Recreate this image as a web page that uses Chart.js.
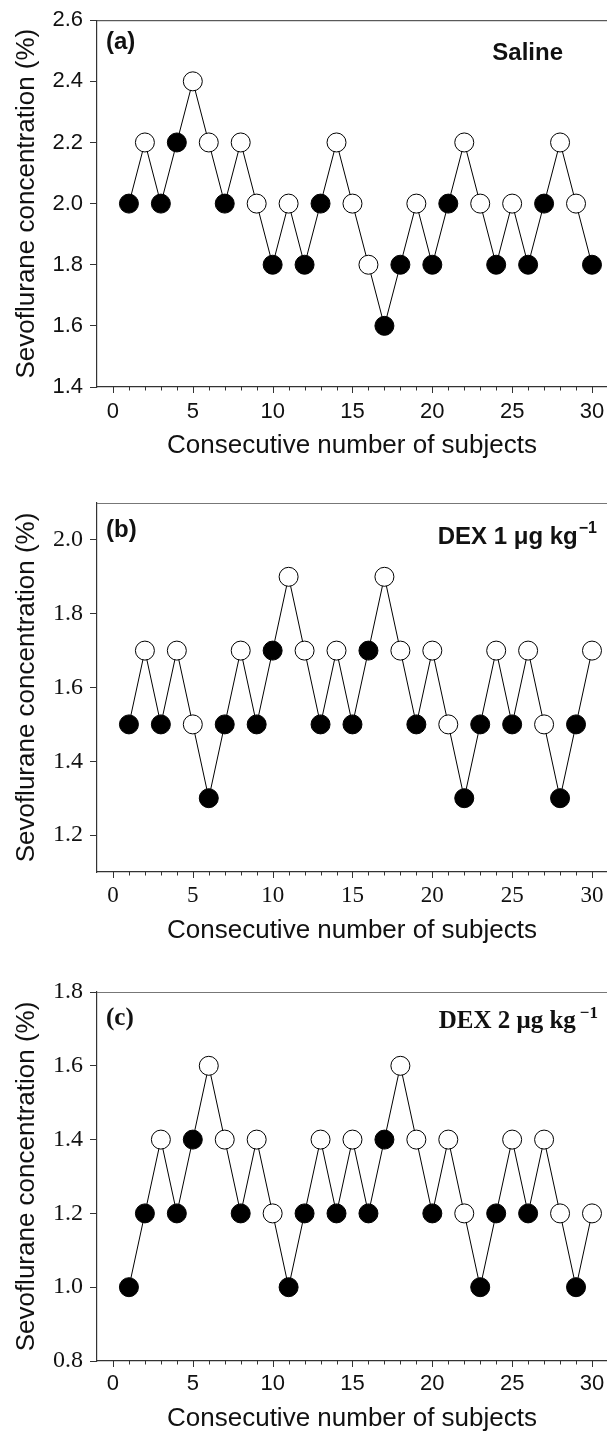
<!DOCTYPE html>
<html>
<head>
<meta charset="utf-8">
<script src="https://cdn.jsdelivr.net/npm/chart.js@4.4.1/dist/chart.umd.min.js"></script>
<style>
html,body{margin:0;padding:0;background:#fff;}
#wrap{position:relative;width:607px;height:1431px;overflow:hidden;}
canvas{position:absolute;left:0;}
</style>
</head>
<body>
<div id="wrap">
  <canvas id="pa" width="607" height="470" style="top:0px"></canvas>
  <canvas id="pb" width="607" height="490" style="top:470px"></canvas>
  <canvas id="pc" width="607" height="471" style="top:960px"></canvas>
</div>
<script>
/* up-and-down sequences, one point per consecutive subject */
const subjects = [1,2,3,4,5,6,7,8,9,10,11,12,13,14,15,16,17,18,19,20,21,22,23,24,25,26,27,28,29,30];

const salineValues = [2.0,2.2,2.0,2.2,2.4,2.2,2.0,2.2,2.0,1.8,2.0,1.8,2.0,2.2,2.0,1.8,1.6,1.8,2.0,1.8,2.0,2.2,2.0,1.8,2.0,1.8,2.0,2.2,2.0,1.8];
const salineFilled = [1,0,1,1,0,0,1,0,0,1,0,1,1,0,0,0,1,1,0,1,1,0,0,1,0,1,1,0,0,1];

const dex1Values = [1.5,1.7,1.5,1.7,1.5,1.3,1.5,1.7,1.5,1.7,1.9,1.7,1.5,1.7,1.5,1.7,1.9,1.7,1.5,1.7,1.5,1.3,1.5,1.7,1.5,1.7,1.5,1.3,1.5,1.7];
const dex1Filled = [1,0,1,0,0,1,1,0,1,1,0,0,1,0,1,1,0,0,1,0,0,1,1,0,1,0,0,1,1,0];

const dex2Values = [1.0,1.2,1.4,1.2,1.4,1.6,1.4,1.2,1.4,1.2,1.0,1.2,1.4,1.2,1.4,1.2,1.4,1.6,1.4,1.2,1.4,1.2,1.0,1.2,1.4,1.2,1.4,1.2,1.0,1.2];
const dex2Filled = [1,1,0,1,1,0,0,1,0,0,1,1,0,1,0,1,1,0,0,1,0,0,1,1,0,1,0,0,1,0];

const xTickLabels = [0,5,10,15,20,25,30];
const xMinorTicks = [0,1,2,3,4,5,6,7,8,9,10,11,12,13,14,15,16,17,18,19,20,21,22,23,24,25,26,27,28,29,30];
const salineYTicks = [1.4,1.6,1.8,2.0,2.2,2.4,2.6];
const dex1YTicks = [1.2,1.4,1.6,1.8,2.0];
const dex2YTicks = [0.8,1.0,1.2,1.4,1.6,1.8];

const SANS = '"Liberation Sans", Arial, sans-serif';
const SERIF = '"Liberation Serif", "Times New Roman", serif';

const panelDeco = {
  id: 'panelDeco',
  afterDraw(chart, args, o){
    const {ctx, chartArea:a, scales:{x}} = chart;
    ctx.save();
    // top frame line
    ctx.strokeStyle = o.frameColor; ctx.lineWidth = 1;
    ctx.beginPath(); ctx.moveTo(a.left, a.top+0.5); ctx.lineTo(a.right, a.top+0.5); ctx.stroke();
    // x tick marks, long on multiples of 5
    ctx.strokeStyle = '#333';
    ctx.beginPath();
    for(const v of xMinorTicks){
      const px = Math.round(x.getPixelForValue(v))+0.5;
      ctx.moveTo(px, a.bottom);
      ctx.lineTo(px, a.bottom + (v%5===0 ? 6 : 3.5));
    }
    ctx.stroke();
    ctx.fillStyle = '#111';
    // x tick labels (drawn here so the axis keeps its full width)
    ctx.font = o.xSize+'px '+o.xFont;
    ctx.textAlign = 'center'; ctx.textBaseline = 'middle';
    for(const v of xTickLabels){
      ctx.fillText(String(v), x.getPixelForValue(v), a.bottom + o.xLabelOffset);
    }
    // axis titles
    ctx.font = '26px '+SANS;
    ctx.fillText('Consecutive number of subjects', (a.left+a.right)/2, a.bottom + o.xTitleOffset);
    ctx.save();
    ctx.textBaseline = 'alphabetic';
    ctx.translate(34, (a.top+a.bottom)/2);
    ctx.rotate(-Math.PI/2);
    ctx.fillText('Sevoflurane concentration (%)', 0, 0);
    ctx.restore();
    // panel letter
    ctx.font = 'bold '+o.letterSize+'px '+o.letterFont;
    ctx.textAlign = 'left';
    ctx.fillText(o.letter, 106, a.top + o.letterY);
    // group label, with optional superscript
    const big = 'bold '+o.labelSize+'px '+o.labelFont;
    const small = 'bold '+Math.round(o.labelSize*0.68)+'px '+o.labelFont;
    ctx.font = big;
    const mainW = ctx.measureText(o.label).width;
    let supW = 0;
    if(o.sup){
      ctx.font = small;
      supW = ctx.measureText(o.sup).width + o.supGap;
    }
    const startX = o.labelRight - mainW - supW;
    ctx.font = big;
    ctx.fillText(o.label, startX, a.top + o.labelY);
    if(o.sup){
      ctx.font = small;
      ctx.fillText(o.sup, startX + mainW + o.supGap, a.top + o.labelY - 8);
    }
    ctx.restore();
  }
};

function makePanel(id, values, filled, yTicks, yMin, yMax, opt){
  const pts = subjects.map((s,i)=>({x:s, y:values[i]}));
  return new Chart(document.getElementById(id), {
    type: 'line',
    data: {
      datasets: [{
        data: pts,
        borderColor: '#000',
        borderWidth: 1,
        tension: 0,
        pointRadius: 9.5,
        pointHoverRadius: 9.5,
        pointBorderWidth: 1,
        pointBorderColor: '#000',
        pointBackgroundColor: filled.map(f => f ? '#000' : '#fff'),
        clip: false
      }]
    },
    options: {
      responsive: false,
      animation: false,
      layout: {autoPadding: false, padding: {top: opt.padTop, left: 0, right: 0, bottom: 0}},
      plugins: {
        legend: {display: false},
        tooltip: {enabled: false},
        panelDeco: opt.deco
      },
      scales: {
        x: {
          type: 'linear',
          min: -1, max: 30.94,
          afterFit: s => { s.height = opt.xHeight; },
          grid: {display: false},
          border: {display: true, color: '#333', width: 1.2},
          ticks: {display: false}
        },
        y: {
          min: yMin, max: yMax,
          afterBuildTicks: s => { s.ticks = yTicks.map(v => ({value: v})); },
          afterFit: s => { s.width = 97; },
          grid: {display: true, drawOnChartArea: false, drawTicks: true, tickLength: 7, color: '#333'},
          border: {display: true, color: '#333', width: 1.2},
          ticks: {
            padding: 7, color: '#111',
            font: {family: opt.yFont, size: opt.ySize},
            callback: v => v.toFixed(1)
          }
        }
      }
    },
    plugins: [panelDeco]
  });
}

makePanel('pa', salineValues, salineFilled, salineYTicks, 1.4, 2.6, {
  padTop: 18, xHeight: 83, yFont: SANS, ySize: 22,
  deco: {frameColor: '#333', xFont: SANS, xSize: 22, xLabelOffset: 25, xTitleOffset: 59,
         letter: '(a)', letterFont: SANS, letterSize: 24, letterY: 22,
         label: 'Saline', labelFont: SANS, labelSize: 24, labelY: 33, labelRight: 563, sup: '', supGap: 0}
});
makePanel('pb', dex1Values, dex1Filled, dex1YTicks, 1.1, 2.1, {
  padTop: 33, xHeight: 88, yFont: SERIF, ySize: 24,
  deco: {frameColor: '#777', xFont: SERIF, xSize: 23, xLabelOffset: 24, xTitleOffset: 59,
         letter: '(b)', letterFont: SANS, letterSize: 24, letterY: 27,
         label: 'DEX 1 μg kg', labelFont: SANS, labelSize: 24, labelY: 34, labelRight: 597, sup: '−1', supGap: 1}
});
makePanel('pc', dex2Values, dex2Filled, dex2YTicks, 0.8, 1.8, {
  padTop: 32, xHeight: 70, yFont: SERIF, ySize: 24,
  deco: {frameColor: '#777', xFont: SANS, xSize: 22, xLabelOffset: 23, xTitleOffset: 58,
         letter: '(c)', letterFont: SERIF, letterSize: 25, letterY: 27,
         label: 'DEX 2 μg kg', labelFont: SERIF, labelSize: 25, labelY: 30, labelRight: 598, sup: '−1', supGap: 4}
});
</script>
</body>
</html>
